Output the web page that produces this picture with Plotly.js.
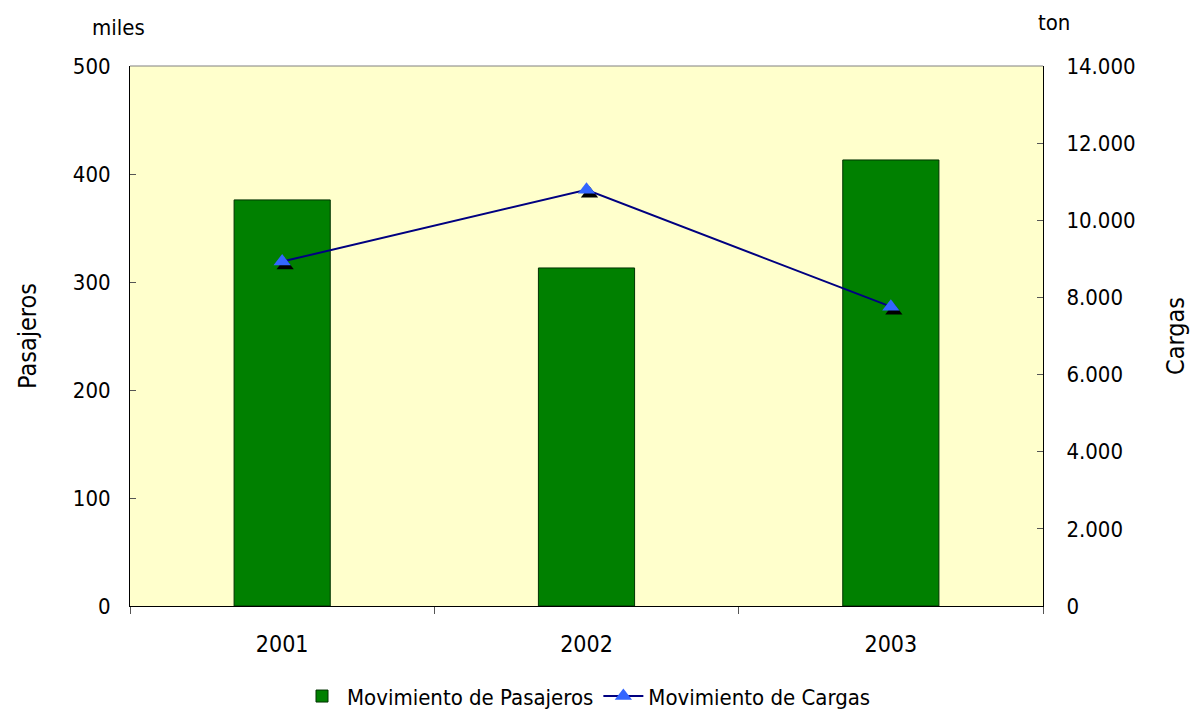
<!DOCTYPE html>
<html><head><meta charset="utf-8">
<script src="https://cdn.plot.ly/plotly-3.0.1.min.js"></script>
<style>body{margin:0;background:#fff}#c{width:1190px;height:709px}</style>
</head><body><div id="c"></div>
<script>
const years = ['2001','2002','2003'];
const pasajeros = [376, 313, 413];
const cargas = [8930, 10790, 7760];

const F = '"DejaVu Sans Condensed", "DejaVu Sans", sans-serif';
const shiftX = 3/304.3, shiftY = 4/541*14000;
const traces = [
  {type:'bar', x:years, y:pasajeros, name:'Movimiento de Pasajeros', width:0.316,
   marker:{color:'#008000', line:{color:'#003300', width:1}}, xaxis:'x', yaxis:'y'},
  {type:'scatter', mode:'markers', x:years, y:cargas, showlegend:false, hoverinfo:'skip',
   marker:{symbol:'triangle-up', size:15, color:'#000000'}, xaxis:'x2', yaxis:'y2'},
  {type:'scatter', mode:'lines+markers', x:years, y:cargas, name:'Movimiento de Cargas',
   line:{color:'#000080', width:2}, marker:{symbol:'triangle-up', size:15, color:'#3366ff'},
   xaxis:'x3', yaxis:'y3'}
];
const layout = {
  width:1190, height:709, separators:',.',
  margin:{l:130, r:147, t:66, b:103, autoexpand:false},
  paper_bgcolor:'#ffffff', plot_bgcolor:'#ffffcc',
  font:{family:F, size:22, color:'#000'},
  xaxis:{type:'category', range:[-0.5,2.5], showline:true, linecolor:'#000', linewidth:1,
    ticks:'outside', tickson:'boundaries', ticklen:7, tickcolor:'#555', showgrid:false,
    tickfont:{size:23}, ticklabelstandoff:17, automargin:false},
  xaxis2:{type:'category', overlaying:'x', range:[-0.5-shiftX, 2.5-shiftX], visible:false},
  xaxis3:{type:'category', overlaying:'x', range:[-0.5, 2.5], visible:false},
  yaxis:{range:[0,500], dtick:100, showline:true, linecolor:'#000', linewidth:1, ticks:'inside',
    ticklen:6, tickcolor:'#555', showgrid:false, zeroline:false, tickfont:{size:22},
    ticklabelstandoff:14, automargin:false,
    title:{text:'Pasajeros', font:{size:25}, standoff:29}},
  yaxis2:{overlaying:'y', range:[shiftY, 14000+shiftY], visible:false},
  yaxis3:{overlaying:'y', side:'right', range:[0,14000], dtick:2000, tickformat:',d',
    showline:true, linecolor:'#000', linewidth:1, ticks:'inside', ticklen:6, tickcolor:'#555',
    showgrid:false, zeroline:false, tickfont:{size:22}, ticklabelstandoff:18, automargin:false,
    title:{text:'Cargas', font:{size:25}, standoff:40}},
  showlegend:true,
  legend:{orientation:'h', x:0.5, xanchor:'center', yref:'container', y:0.018, yanchor:'middle',
    font:{size:22}, traceorder:'normal', itemwidth:40},
  shapes:[{type:'line', xref:'paper', yref:'paper', x0:0, x1:1, y0:1, y1:1,
    line:{color:'#808080', width:1}}],
  annotations:[
    {text:'miles', xref:'paper', yref:'paper', x:0, y:1.072, xanchor:'center', yanchor:'middle',
     showarrow:false, font:{size:22}, xshift:-12},
    {text:'ton', xref:'paper', yref:'paper', x:1.0, y:1.081, xanchor:'center', yanchor:'middle',
     showarrow:false, font:{size:22}, xshift:11}
  ]
};
Plotly.newPlot('c', traces, layout, {displayModeBar:false});
</script></body></html>
